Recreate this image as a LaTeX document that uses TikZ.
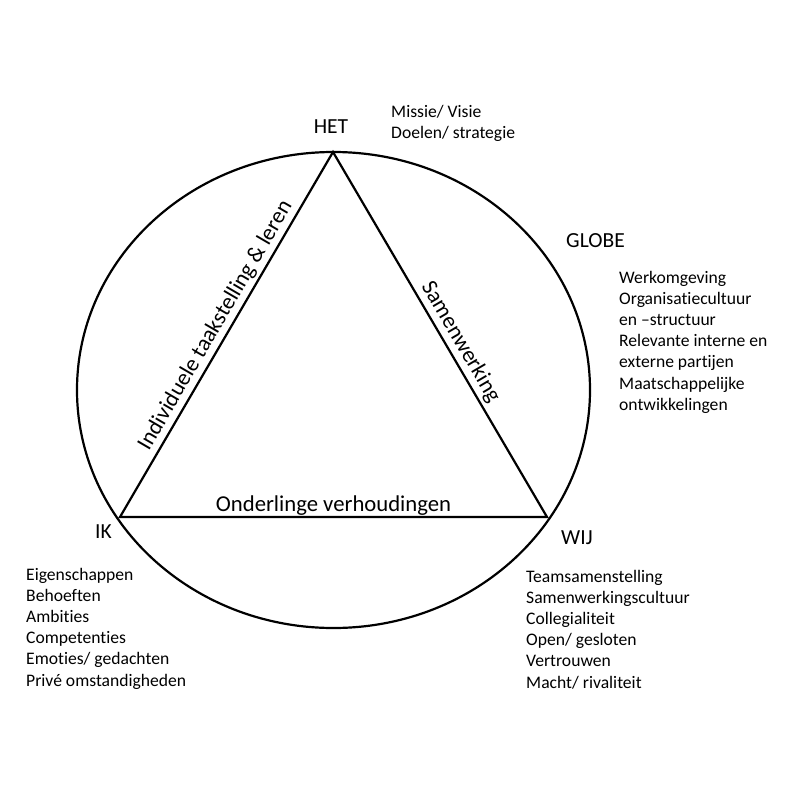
\documentclass[tikz,border=0pt]{standalone}
\usepackage{fontspec}
\setmainfont{Carlito}[Ligatures=NoCommon]
\begin{document}
\begin{tikzpicture}[x=1pt,y=-1pt,
  line/.style={line width=2.2pt, line join=miter},
  head/.style={font=\fontsize{21.5}{25}\selectfont, inner sep=0pt},
  side/.style={font=\fontsize{22.7}{27}\selectfont, inner sep=0pt},
  lst/.style={font=\fontsize{17.6}{21.2}\selectfont, align=left, inner sep=0pt, anchor=base west}]
\useasboundingbox (0,0) rectangle (800,800);
\draw[line] (333.5,390) ellipse [x radius=256.5, y radius=238];
\coordinate (het) at (333,152);
\coordinate (ik) at (120,517);
\coordinate (wij) at (547,517);
\draw[line] (ik) -- node[side, sloped, above=3pt, pos=0.505] (lbl1) {Individuele taakstelling \& leren} (het)
  -- node[side, sloped, above=3pt, pos=0.54] (lbl2) {Samenwerking} (wij)
  -- node[side, anchor=base, yshift=6pt, midway] (lbl3) {Onderlinge verhoudingen} (ik) -- cycle;
\node[head, anchor=base] (hetl) at (331,133) {HET};
\node[head, anchor=base west] (globe) at (566,247) {GLOBE};
\node[head, anchor=base west] (ikl) at (95,538) {IK};
\node[head, anchor=base west] (wijl) at (561,544) {WIJ};
\node[lst] (hetlist) at (391,138.2) {Missie/ Visie\\Doelen/ strategie};
\node[lst] (globelist) at (619,410.2) {Werkomgeving\\Organisatiecultuur\\en –structuur\\Relevante interne en\\externe partijen\\Maatschappelijke\\ontwikkelingen};
\node[lst] (iklist) at (26,686) {Eigenschappen\\Behoeften\\Ambities\\Competenties\\Emoties/ gedachten\\Privé omstandigheden};
\node[lst] (wijlist) at (526,688) {Teamsamenstelling\\Samenwerkingscultuur\\Collegialiteit\\Open/ gesloten\\Vertrouwen\\Macht/ rivaliteit};
\end{tikzpicture}
\end{document}
